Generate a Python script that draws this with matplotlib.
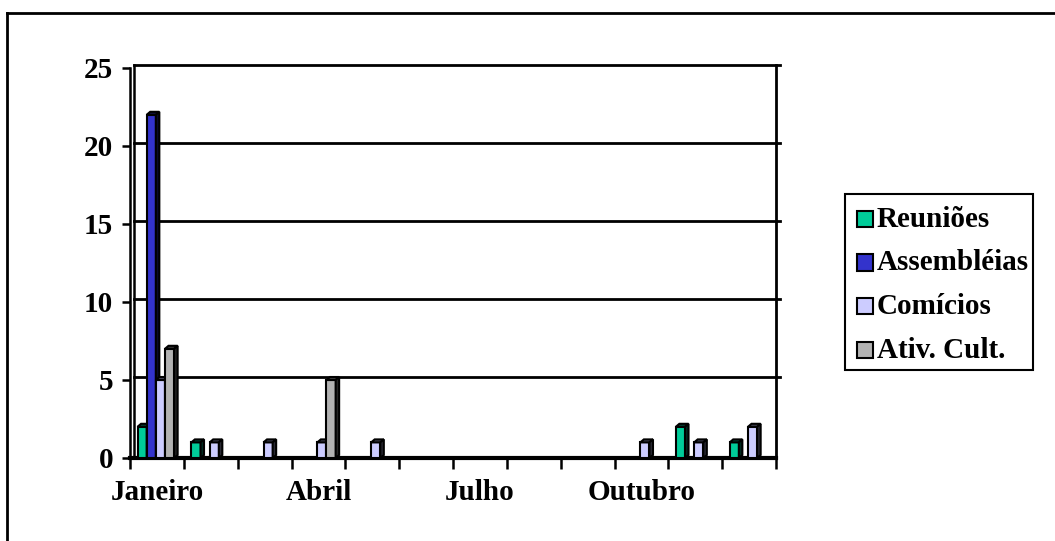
import matplotlib
matplotlib.use('Agg')
import matplotlib.pyplot as plt
from matplotlib.patches import Polygon, Rectangle
from matplotlib.lines import Line2D
from matplotlib import transforms

# dados do grafico
meses = ['Janeiro', 'Fevereiro', 'Março', 'Abril', 'Maio', 'Junho',
         'Julho', 'Agosto', 'Setembro', 'Outubro', 'Novembro', 'Dezembro']
series = ['Reuniões', 'Assembléias', 'Comícios', 'Ativ. Cult.']
reunioes = [2, 1, 0, 0, 0, 0, 0, 0, 0, 0, 2, 1]
assembleias = [22, 0, 0, 0, 0, 0, 0, 0, 0, 0, 0, 0]
comicios = [5, 1, 1, 1, 1, 0, 0, 0, 0, 1, 1, 2]
ativ_cult = [7, 0, 0, 5, 0, 0, 0, 0, 0, 0, 0, 0]
yticks = [0, 5, 10, 15, 20, 25]

cores = ['#00CC99', '#3333CC', '#CCCCFF', '#B2B2B2']
valores = [reunioes, assembleias, comicios, ativ_cult]

W, H = 1055, 541
plt.rcParams['font.family'] = ['Liberation Serif', 'DejaVu Serif']
plt.rcParams['font.weight'] = 'bold'
plt.rcParams['font.size'] = 21

fig = plt.figure(figsize=(W / 100, H / 100), dpi=100)

def px(x, y):
    # pixel -> figure fraction
    return x / W, 1 - y / H

# eixo: x de 130 a 776 px, y de 458 (0) a 68 (25)
ax = fig.add_axes([130 / W, (H - 458) / H, 646 / W, 390 / H])
n = len(meses)
ax.set_xlim(0, n)
ax.set_ylim(0, 25)

# profundidade 3D (em unidades de dados)
dx = 3.5 / (646 / n)
dy = 3.0 / (390 / 25)
wall = transforms.offset_copy(ax.transData, fig=fig, x=4, y=3, units='dots')

# linhas de grade e parede de fundo
for v in yticks[1:]:
    ax.plot([0, n], [v, v], color='black', lw=2, transform=wall, clip_on=False, zorder=1)
ax.plot([0, 0], [0, 25], color='black', lw=1.8, transform=wall, clip_on=False, zorder=1)

for s in ['top', 'right']:
    ax.spines[s].set_visible(False)
ax.plot([n, n], [0, 25 + dy], color='black', lw=2, clip_on=False, zorder=1)
ax.spines['left'].set_linewidth(1.8)
ax.spines['bottom'].set_linewidth(3)

# barras com efeito 3D
larg = 0.17
ini = 0.14
def escurecer(c, f=0.25):
    r, g, b = matplotlib.colors.to_rgb(c)
    return (r * f, g * f, b * f)

for k, (vals, cor) in enumerate(zip(valores, cores)):
    for i, v in enumerate(vals):
        if v <= 0:
            continue
        x0 = i + ini + k * larg
        x1 = x0 + larg
        ax.add_patch(Rectangle((x0, 0), larg, v, facecolor=cor, edgecolor='black',
                               lw=1.5, zorder=3 + k))
        topo = [(x0, v), (x1, v), (x1 + dx, v + dy), (x0 + dx, v + dy)]
        lado = [(x1, 0), (x1 + dx, dy), (x1 + dx, v + dy), (x1, v)]
        ax.add_patch(Polygon(topo, closed=True, facecolor=escurecer(cor, 0.35),
                             edgecolor='black', lw=1.5, zorder=3 + k))
        ax.add_patch(Polygon(lado, closed=True, facecolor=escurecer(cor, 0.2),
                             edgecolor='black', lw=1.5, zorder=3 + k))

# ticks
ax.set_yticks(yticks)
ax.set_yticklabels([str(t) for t in yticks])
ax.tick_params(axis='y', length=6, width=1.8, pad=6)
ax.set_xticks(range(n + 1))
ax.set_xticklabels([])
ax.tick_params(axis='x', which='major', length=8, width=1.8)
ax.set_xticks([i + 0.5 for i in range(0, n, 3)], minor=True)
ax.set_xticklabels([meses[i] for i in range(0, n, 3)], minor=True)
ax.tick_params(axis='x', which='minor', length=0, pad=15)

# legenda
x0, y0 = px(845, 370)
x1, y1 = px(1033, 194)
fig.add_artist(Rectangle((x0, y0), x1 - x0, y1 - y0, transform=fig.transFigure,
                         facecolor='white', edgecolor='black', lw=1.5))
for j, (nome, cor) in enumerate(zip(series, cores)):
    cy = 219 + j * 43.5
    sx, sy = px(857, cy + 8)
    ww = 16 / W
    hh = 16 / H
    fig.add_artist(Rectangle((sx, sy), ww, hh, transform=fig.transFigure,
                             facecolor=cor, edgecolor='black', lw=1.5))
    tx, ty = px(877, cy + 8)
    fig.text(tx, ty, nome, ha='left', va='baseline')

# moldura da area do grafico (so topo e esquerda visiveis)
fx, fy = px(7, 13)
fig.add_artist(Line2D([fx, fx], [0, fy], color='black', lw=2, transform=fig.transFigure))
fig.add_artist(Line2D([fx, 1], [fy, fy], color='black', lw=2, transform=fig.transFigure))

fig.savefig('out.png', dpi=100)
